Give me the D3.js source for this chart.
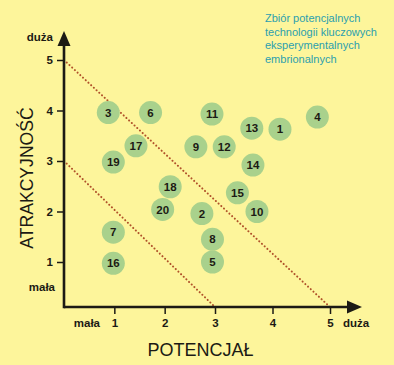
<!DOCTYPE html>
<html><head><meta charset="utf-8">
<script src="https://cdn.jsdelivr.net/npm/d3@7"></script>
<style>
html,body{margin:0;padding:0;background:#fdf59b;}
svg{display:block;font-family:"Liberation Sans",Arial,sans-serif;}
</style></head>
<body>
<svg id="c" width="394" height="365"></svg>
<script>
const ids = [1,2,3,4,5,6,7,8,9,10,11,12,13,14,15,16,17,18,19,20];
const potencjal = [4.13,2.74,0.88,4.78,2.95,1.72,0.98,2.95,2.62,3.73,2.94,3.16,3.64,3.66,3.39,0.98,1.43,2.11,0.98,1.96];
const atrakcyjnosc = [3.63,1.96,3.96,3.87,1.0,3.96,1.59,1.45,3.28,2.0,3.93,3.28,3.65,2.92,2.37,0.97,3.30,2.49,2.98,2.04];
const xTicks = [1,2,3,4,5];
const yTicks = [1,2,3,4,5];
const boundaryLines = [[5,5],[3,3]]; // [x-intercept, y-intercept]
const noteLines = ["Zbiór potencjalnych","technologii kluczowych","eksperymentalnych","embrionalnych"];

const svg = d3.select("#c");
svg.append("rect").attr("width",394).attr("height",365).attr("fill","#fdf59b");

const x = d3.scaleLinear().domain([0,3,5]).range([64,215,330]);
const y = d3.scaleLinear().domain([0,1,5]).range([307,262,60]);
const ink = "#1c1a14";

// dotted boundary lines
svg.selectAll("line.bd").data(boundaryLines).enter().append("line")
  .attr("x1", x(0)).attr("y1", d=>y(d[1]))
  .attr("x2", d=>x(d[0])).attr("y2", y(0))
  .attr("stroke","#b0522a").attr("stroke-width",2)
  .attr("stroke-dasharray","0.1,3.6").attr("stroke-linecap","round");

// axes
const xAxis = d3.axisBottom(x).tickValues(xTicks).tickSize(7).tickPadding(5).tickFormat(d3.format("d"));
const yAxis = d3.axisLeft(y).tickValues(yTicks).tickSize(7).tickPadding(4).tickFormat(d3.format("d"));
const gx = svg.append("g").attr("transform",`translate(0,${y(0)})`).call(xAxis);
const gy = svg.append("g").attr("transform",`translate(${x(0)},0)`).call(yAxis);
[gx,gy].forEach(g=>{
  g.select(".domain").remove();
  g.selectAll(".tick line").attr("stroke",ink).attr("stroke-width",1.5);
  g.selectAll(".tick text").attr("fill",ink).attr("font-size",11.5).attr("font-weight","bold")
   .attr("font-family","'Liberation Sans',Arial,sans-serif");
});
gx.selectAll(".tick line").attr("y1",0).attr("y2",7);

// axis lines with arrows
svg.append("line").attr("x1",x(0)).attr("y1",y(0)).attr("x2",350).attr("y2",y(0))
  .attr("stroke",ink).attr("stroke-width",2.6);
svg.append("line").attr("x1",x(0)).attr("y1",y(0)+1.3).attr("x2",x(0)).attr("y2",44)
  .attr("stroke",ink).attr("stroke-width",2.6);
svg.append("path").attr("d",`M362,${y(0)} L347,${y(0)-6.5} L347,${y(0)+6.5} Z`).attr("fill",ink);
svg.append("path").attr("d",`M${x(0)},31 L${x(0)-6.5},46 L${x(0)+6.5},46 Z`).attr("fill",ink);

// end labels
const lab = (t,px,py,anchor)=>svg.append("text").attr("x",px).attr("y",py).attr("text-anchor",anchor||"start")
  .attr("font-size",11.5).attr("font-weight","bold").attr("fill",ink).text(t);
lab("duża",53,41,"end");
lab("mała",55,291,"end");
lab("mała",100,327,"end");
lab("duża",343,327,"start");

// axis titles
svg.append("text").attr("x",200.5).attr("y",356).attr("text-anchor","middle")
  .attr("font-size",18).attr("fill",ink).text("POTENCJAŁ");
svg.append("text").attr("transform","translate(33,178) rotate(-90)").attr("text-anchor","middle")
  .attr("font-size",17.6).attr("fill",ink).text("ATRAKCYJNOŚĆ");

// note
svg.append("text").attr("x",265).attr("y",22).attr("font-size",11).attr("fill","#2b9fae")
  .selectAll("tspan").data(noteLines).enter().append("tspan")
  .attr("x",265).attr("dy",(d,i)=>i?13.5:0).text(d=>d);

// bubbles
const data = ids.map((id,i)=>({id, px:potencjal[i], py:atrakcyjnosc[i]}));
const b = svg.selectAll("g.b").data(data).enter().append("g")
  .attr("transform",d=>`translate(${x(d.px)},${y(d.py)})`);
b.append("circle").attr("r",11.5).attr("fill","#a9d18c");
b.append("text").attr("text-anchor","middle").attr("dy","0.36em")
  .attr("font-size",11.5).attr("font-weight","bold").attr("fill",ink).text(d=>d.id);
</script>
</body></html>
